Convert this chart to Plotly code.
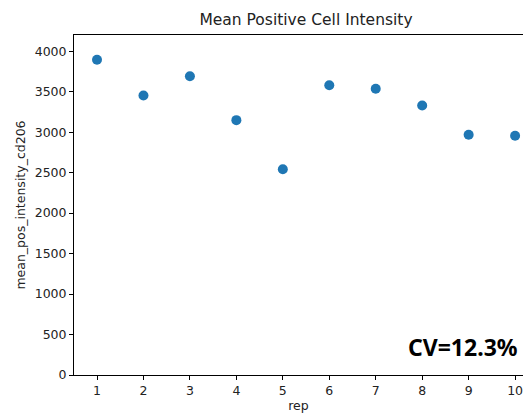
import plotly.graph_objects as go

reps = [1, 2, 3, 4, 5, 6, 7, 8, 9, 10]
mean_pos_intensity = [3895, 3452, 3690, 3148, 2541, 3579, 3535, 3329, 2968, 2955]
y_ticks = [0, 500, 1000, 1500, 2000, 2500, 3000, 3500, 4000]
x_ticks = [1, 2, 3, 4, 5, 6, 7, 8, 9, 10]
title = "Mean Positive Cell Intensity"
cv_label = "CV=12.3%"

fig = go.Figure()
fig.add_trace(go.Scatter(
    x=reps, y=mean_pos_intensity, mode="markers",
    marker=dict(size=10, color="#1f77b4", line=dict(width=0)),
    showlegend=False,
))

axis_font = dict(family="DejaVu Sans", size=12.5, color="#222222")
fig.update_layout(
    width=523, height=413,
    margin=dict(l=74, r=0, t=35, b=38),
    plot_bgcolor="white", paper_bgcolor="white",
    title=dict(text=title, x=306 / 523, xanchor="center", y=1 - 20 / 413, yanchor="middle",
               font=dict(family="DejaVu Sans", size=15.5, color="#222222")),
    xaxis=dict(range=[0.505, 10.17], tickvals=x_ticks, ticktext=[str(v) for v in x_ticks],
               showgrid=False, zeroline=False, showline=True, linecolor="black", linewidth=1,
               mirror=True, ticks="outside", ticklen=4, tickcolor="black",
               tickfont=axis_font, ticklabeloverflow="allow",
               title=dict(text="rep", font=axis_font, standoff=4)),
    yaxis=dict(range=[0, 4200], tickvals=y_ticks, ticktext=[str(v) for v in y_ticks],
               showgrid=False, zeroline=False, showline=True, linecolor="black", linewidth=1,
               ticks="outside", ticklen=4, tickcolor="black",
               tickfont=axis_font,
               title=dict(text="mean_pos_intensity_cd206", font=axis_font, standoff=6)),
)

fig.add_annotation(
    x=1, xref="paper", xanchor="right", xshift=-3,
    y=340, yref="y", yanchor="middle",
    text="<b>" + cv_label + "</b>", showarrow=False,
    font=dict(family="Noto Sans", size=23, color="black"),
)

fig.write_html("out.html", config={"displayModeBar": False},
               post_script="document.body.style.margin='0';document.body.style.overflow='hidden';")
